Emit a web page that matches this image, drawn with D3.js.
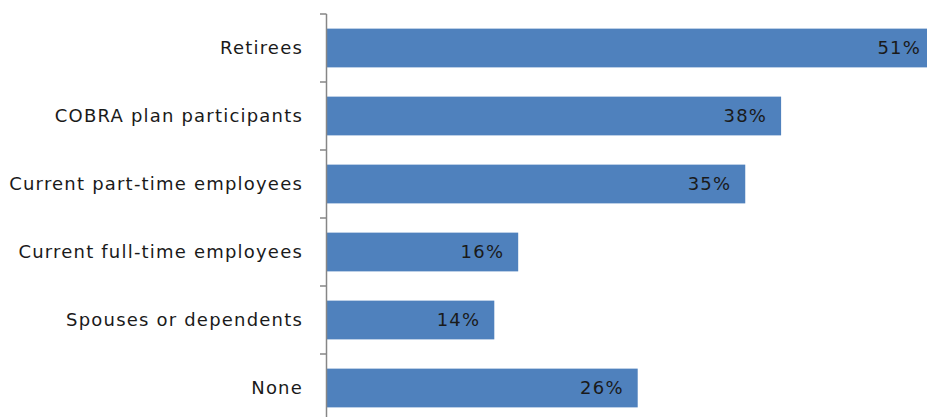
<html>

<head>
  <script src="https://d3js.org/d3.v7.min.js"></script>
  <style>
    body { margin: 0; background: #fff; }
    .lbl { font-family: "DejaVu Sans", Verdana, sans-serif; font-size: 18px; fill: #1a1a1a; }
  </style>
</head>

<body>
  <svg id="chart" width="927" height="417"></svg>
  <script>
    const categories = ["Retirees", "COBRA plan participants", "Current part-time employees",
      "Current full-time employees", "Spouses or dependents", "None"];
    const values = [51, 38, 35, 16, 14, 26];
    const valueLabels = ["51%", "38%", "35%", "16%", "14%", "26%"];

    let svg = d3.select('svg#chart');

    // x runs past the right edge, so the Retirees bar gets cut off like the original
    let x = d3.scaleLinear().domain([0, 60]).range([327, 327 + 60 * 11.95]);
    let y = d3.scaleBand().domain(categories).range([14, 422]).paddingInner(0.43).paddingOuter(0.215);

    let rows = categories.map((c, i) => ({ cat: c, val: values[i], lab: valueLabels[i] }));

    svg.selectAll('rect.bar')
      .data(rows)
      .join('rect')
      .attr('class', 'bar')
      .attr('x', x(0))
      .attr('y', d => y(d.cat))
      .attr('width', d => x(d.val) - x(0))
      .attr('height', y.bandwidth())
      .attr('fill', '#4f81bd');

    // category axis with ticks at band boundaries
    let axis = svg.append('g');
    axis.append('line')
      .attr('x1', 326.5).attr('x2', 326.5)
      .attr('y1', 14).attr('y2', 422)
      .attr('stroke', '#868686').attr('stroke-width', 1.5);
    let edges = d3.range(categories.length + 1).map(i => 14 + i * y.step());
    axis.selectAll('line.tick')
      .data(edges)
      .join('line')
      .attr('class', 'tick')
      .attr('x1', 320).attr('x2', 326.5)
      .attr('y1', d => d).attr('y2', d => d)
      .attr('stroke', '#868686').attr('stroke-width', 1.5);

    svg.selectAll('text.cat')
      .data(rows)
      .join('text')
      .attr('class', 'lbl cat')
      .attr('x', 303)
      .attr('y', d => y(d.cat) + y.bandwidth() / 2)
      .attr('dy', '0.35em')
      .attr('text-anchor', 'end')
      .attr('letter-spacing', '1.2px')
      .text(d => d.cat);

    svg.selectAll('text.val')
      .data(rows)
      .join('text')
      .attr('class', 'lbl val')
      .attr('x', d => Math.min(x(d.val), 935) - 14)
      .attr('y', d => y(d.cat) + y.bandwidth() / 2)
      .attr('dy', '0.35em')
      .attr('text-anchor', 'end')
      .attr('letter-spacing', '1.2px')
      .text(d => d.lab);
  </script>

</body>

</html>
